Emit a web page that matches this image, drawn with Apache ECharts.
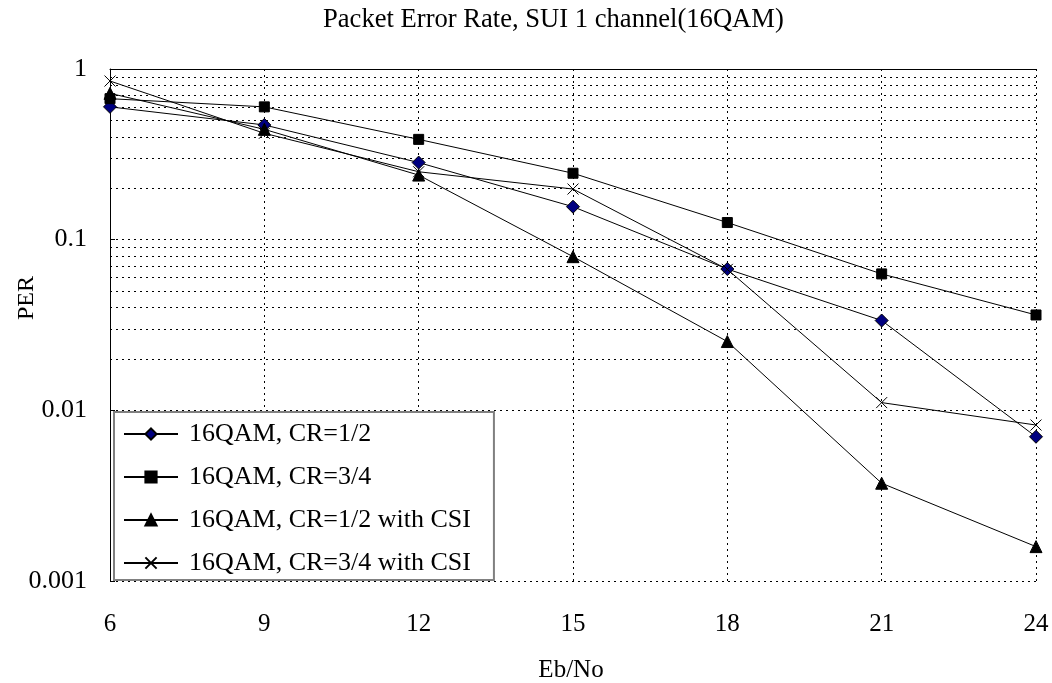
<!DOCTYPE html>
<html>
<head>
<meta charset="utf-8">
<script src="https://cdn.jsdelivr.net/npm/echarts@6/dist/echarts.min.js"></script>
<style>html,body{margin:0;padding:0;background:#fff;}#c{width:1052px;height:683px;}</style>
</head>
<body>
<div id="c"></div>
<script>
const ebno = [6, 9, 12, 15, 18, 21, 24];
const xTicks = [6, 9, 12, 15, 18, 21, 24];
const yTicks = [0.001, 0.01, 0.1, 1];
const minorGrid = [0.002,0.003,0.004,0.005,0.006,0.007,0.008,0.009,
                   0.02,0.03,0.04,0.05,0.06,0.07,0.08,0.09,
                   0.2,0.3,0.4,0.5,0.6,0.7,0.8,0.9];
const seriesNames = ['16QAM, CR=1/2', '16QAM, CR=3/4', '16QAM, CR=1/2 with CSI', '16QAM, CR=3/4 with CSI'];
const perCR12    = [0.60, 0.47, 0.283, 0.156, 0.0673, 0.0336, 0.0070];
const perCR34    = [0.67, 0.60, 0.387, 0.245, 0.126, 0.063, 0.0362];
const perCR12CSI = [0.72, 0.443, 0.239, 0.0795, 0.0253, 0.00374, 0.00159];
const perCR34CSI = [0.85, 0.42, 0.25, 0.198, 0.067, 0.0111, 0.0082];

const FONT = 'Liberation Serif';
const pairs = arr => ebno.map((x, i) => [x, arr[i]]);
const crossPath = 'path://M0,0L10,10M0,10L10,0';

function mkSeries(name, data, symbol, size, fill) {
  return {
    name: name, type: 'line', data: pairs(data), symbol: symbol, symbolSize: size,
    clip: false, z: 5,
    lineStyle: {color: '#000', width: 1},
    itemStyle: {color: fill, borderColor: '#000', borderWidth: 1},
    emphasis: {disabled: true}
  };
}

const chart = echarts.init(document.getElementById('c'), null, {renderer: 'canvas'});
chart.setOption({
  animation: false,
  backgroundColor: '#fff',
  textStyle: {fontFamily: FONT, color: '#000'},
  title: {
    text: 'Packet Error Rate, SUI 1 channel(16QAM)',
    left: 323, top: 7, padding: 0,
    textStyle: {fontFamily: FONT, fontSize: 26.6, fontWeight: 'normal', color: '#000'}
  },
  grid: {left: 110, right: 16, top: 69, bottom: 102, containLabel: false},
  xAxis: [{
    type: 'value', min: 6, max: 24, interval: 3,
    axisLine: {show: false}, axisTick: {show: false},
    axisLabel: {fontFamily: FONT, fontSize: 25, color: '#000', margin: 31,
      customValues: xTicks},
    splitLine: {show: true, lineStyle: {color: '#000', width: 1, type: [2, 4]}}
  }, {
    type: 'value', min: 6, max: 24, position: 'top',
    axisLine: {show: true, onZero: false, lineStyle: {color: '#000', width: 1}},
    axisTick: {show: false}, axisLabel: {show: false}, splitLine: {show: false}
  }],
  yAxis: {
    type: 'log', logBase: 10, min: 0.001, max: 1,
    axisLine: {show: true, lineStyle: {color: '#000', width: 1}},
    axisTick: {show: true, inside: true, length: 5, lineStyle: {color: '#000'}},
    axisLabel: {fontFamily: FONT, fontSize: 26, color: '#000', margin: 23,
      formatter: v => String(+v.toPrecision(3))},
    splitLine: {show: true, lineStyle: {color: '#000', width: 1, type: [2, 4]}}
  },
  legend: {
    data: seriesNames,
    orient: 'vertical', left: 114, top: 412,
    padding: [7, 23, 2, 9],
    itemWidth: 54, itemHeight: 14, itemGap: 13,
    backgroundColor: '#fff', borderColor: '#808080', borderWidth: 2, borderRadius: 0,
    textStyle: {fontFamily: FONT, fontSize: 26, color: '#000', lineHeight: 30, padding: [0, 0, 0, 6]},
    selectedMode: false, z: 10
  },
  graphic: [
    {type: 'text', x: 27, y: 298, rotation: Math.PI / 2,
     style: {text: 'PER', font: '24px "Liberation Serif"', fill: '#000', align: 'center', verticalAlign: 'middle'}},
    {type: 'text', x: 571, y: 670,
     style: {text: 'Eb/No', font: '25px "Liberation Serif"', fill: '#000', align: 'center', verticalAlign: 'middle'}}
  ],
  series: [
    {
      name: 'minor', type: 'line', data: [], z: 1, silent: true,
      markLine: {
        silent: true, symbol: ['none', 'none'], label: {show: false}, animation: false,
        lineStyle: {color: '#000', width: 1, type: [2, 4]},
        emphasis: {disabled: true},
        data: minorGrid.map(v => ({yAxis: v}))
      }
    },
    mkSeries(seriesNames[0], perCR12, 'diamond', 13, '#000080'),
    mkSeries(seriesNames[1], perCR34, 'rect', 10, '#000'),
    mkSeries(seriesNames[2], perCR12CSI, 'triangle', 12, '#000'),
    mkSeries(seriesNames[3], perCR34CSI, crossPath, 11, 'none')
  ]
});
</script>
</body>
</html>
